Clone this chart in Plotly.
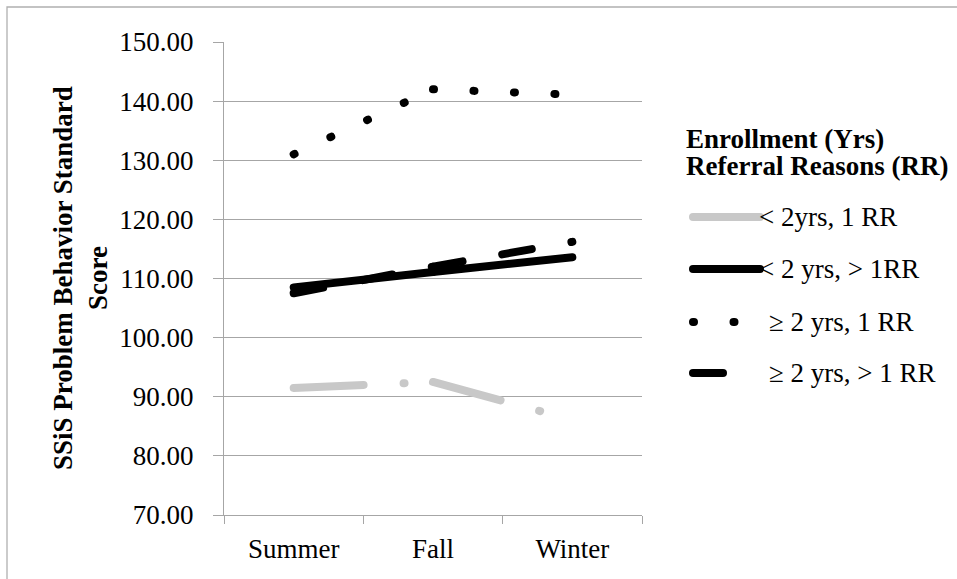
import plotly.graph_objects as go

# ---- data ----
seasons = ["Summer", "Fall", "Winter"]
series_names = ["< 2yrs, 1 RR", "< 2 yrs, > 1RR", "\u2265 2 yrs, 1 RR", "\u2265 2 yrs, > 1 RR"]
lt2_1rr = [91.5, 92.5, 86.1]
lt2_gt1rr = [108.5, 111.1, 113.6]
ge2_1rr = [131.0, 142.0, 141.1]
ge2_gt1rr = [107.5, 112.0, 116.2]
y_ticks = [70, 80, 90, 100, 110, 120, 130, 140, 150]

# ---- styles ----
W, H = 957, 579
PL, PR, PT, PB = 224, 642, 42, 515
FONT = "Liberation Serif"
GRID = "#a6a6a6"
styles = [
    dict(color="#c8c8c8", dash="70px,40px,1px,40px"),
    dict(color="#000000", dash="solid"),
    dict(color="#000000", dash="1px,39.5px"),
    dict(color="#000000", dash="30px,40.3px"),
]
values = [lt2_1rr, lt2_gt1rr, ge2_1rr, ge2_gt1rr]
LW = 8


def px(x):
    return (x - PL) / (PR - PL)


def py(y):
    return (PB - y) / (PB - PT)


fig = go.Figure()
# Each segment drawn as its own path so the dash pattern restarts per segment (as in the source)
for name, vals, st in zip(series_names, values, styles):
    for i in range(len(seasons) - 1):
        fig.add_trace(go.Scatter(
            x=seasons[i:i + 2], y=vals[i:i + 2], mode="lines", name=name,
            line=dict(color=st["color"], width=LW, dash=st["dash"]),
            showlegend=False, hoverinfo="skip"))

shapes = []
annotations = []
# outer border (top and left visible)
shapes.append(dict(type="rect", xref="paper", yref="paper",
                   x0=px(7), x1=px(975), y0=py(7), y1=py(600),
                   line=dict(color="#b0b0b0", width=1.3), layer="below"))

# manual legend
legend_y = [217, 269, 322, 373]
legend_tx = [757, 757, 767, 767]
for name, st, ly, tx in zip(series_names, styles, legend_y, legend_tx):
    shapes.append(dict(type="line", xref="paper", yref="paper",
                       x0=px(693), x1=px(760), y0=py(ly), y1=py(ly),
                       line=dict(color=st["color"], width=LW, dash=st["dash"])))
    annotations.append(dict(xref="paper", yref="paper", x=px(tx), y=py(ly),
                            xanchor="left", yanchor="middle", showarrow=False,
                            text=name, font=dict(family=FONT, size=27, color="black")))
for txt, ty in [("<b>Enrollment (Yrs)</b>", 139), ("<b>Referral Reasons (RR)</b>", 166)]:
    annotations.append(dict(xref="paper", yref="paper", x=px(684), y=py(ty),
                            xanchor="left", yanchor="middle", showarrow=False,
                            text=txt, font=dict(family=FONT, size=27, color="black")))
# y-axis title
annotations.append(dict(xref="paper", yref="paper", x=px(80), y=py(278),
                        xanchor="center", yanchor="middle", showarrow=False,
                        textangle=-90, align="center",
                        text="<b>SSiS Problem Behavior Standard</b><br><b>Score</b>",
                        font=dict(family=FONT, size=27, color="black")))

fig.update_layout(
    width=W, height=H, autosize=False,
    margin=dict(l=PL, r=W - PR, t=PT, b=H - PB, pad=0),
    paper_bgcolor="white", plot_bgcolor="white",
    showlegend=False,
    font=dict(family=FONT, size=27, color="black"),
    shapes=shapes, annotations=annotations,
    xaxis=dict(type="category", categoryorder="array", categoryarray=seasons,
               range=[-0.5, 2.5], showgrid=False, showline=True, linecolor=GRID,
               linewidth=1.3, ticks="outside", ticklen=8, tickcolor=GRID,
               tickwidth=1.3, tickson="boundaries", ticklabelstandoff=9,
               tickfont=dict(family=FONT, size=27, color="black"), zeroline=False),
    yaxis=dict(range=[70, 150], tickvals=y_ticks, tickformat=".2f",
               showgrid=True, gridcolor=GRID, gridwidth=1.3,
               showline=True, linecolor=GRID, linewidth=1.3,
               ticks="outside", ticklen=10, tickcolor=GRID, tickwidth=1.3,
               ticklabelstandoff=14,
               tickfont=dict(family=FONT, size=27, color="black"), zeroline=False),
)

post = """
var gd = document.getElementById('{plot_id}');
function fixCaps(){
  gd.querySelectorAll('path.js-line, .shapelayer path').forEach(function(p){
    p.style.strokeLinecap = 'round';
  });
}
fixCaps();
setTimeout(fixCaps, 50);
setTimeout(fixCaps, 300);
if (gd.on) { gd.on('plotly_afterplot', fixCaps); }
"""
fig.write_html("out.html", post_script=post)
